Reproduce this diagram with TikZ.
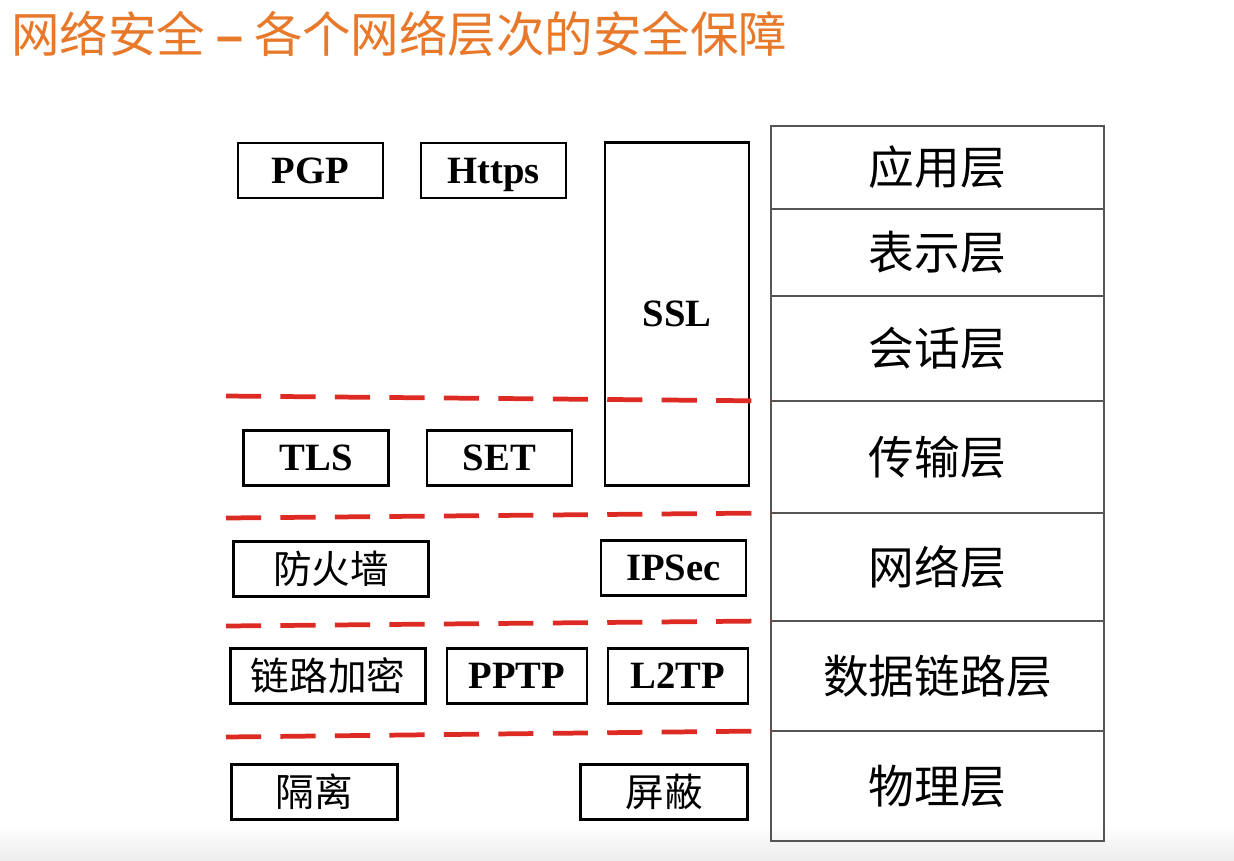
\documentclass[tikz,border=0pt]{standalone}
\usepackage{fontspec}
\setmainfont{Liberation Serif}
\newfontfamily\cjk{Noto Sans CJK SC}
\newfontfamily\dashfont{Liberation Sans}
\usetikzlibrary{positioning}
\definecolor{titleorange}{HTML}{E8792A}
\definecolor{cutred}{HTML}{DD2A22}
\definecolor{stackgray}{HTML}{555555}

\begin{document}
\begin{tikzpicture}[
    x=0.02cm, y=-0.02cm,
    proto/.style={
        draw,
        line width=1.4pt,
        minimum height=1.1cm,
        inner sep=0pt,
        text height=19.4pt,
        text depth=4.8pt,
        font=\bfseries\fontsize{22}{26}\selectfont
    },
    guard/.style={proto, text height=19.4pt, text depth=2.6pt, font=\cjk\fontsize{22}{26}\selectfont},
    layer/.style={
        draw=stackgray,
        line width=0.9pt,
        minimum width=6.66cm,
        outer sep=0pt,
        font=\cjk\fontsize{26}{30}\selectfont
    },
    layercut/.style={draw=cutred, line width=2.7pt, dash pattern=on 20pt off 11pt}
]
\useasboundingbox (0,0) rectangle (1234,860);
\fill[white] (0,0) rectangle (1234,860);
\shade[top color=white, bottom color=gray!14] (0,825) rectangle (1234,860);

\node[anchor=west, inner sep=0pt, text=titleorange, font=\cjk\fontsize{27.6}{32}\selectfont] (title) at (11,34) {网络安全 {\dashfont\bfseries –} 各个网络层次的安全保障};

% OSI stack
\node[layer, minimum height=1.66cm] (app) at (937.5,167.5) {应用层};
\node[layer, minimum height=1.74cm, below=0pt of app] (pres) {表示层};
\node[layer, minimum height=2.10cm, below=0pt of pres] (sess) {会话层};
\node[layer, minimum height=2.24cm, below=0pt of sess] (trans) {传输层};
\node[layer, minimum height=2.16cm, below=0pt of trans] (net) {网络层};
\node[layer, minimum height=2.20cm, below=0pt of net] (link) {数据链路层};
\node[layer, minimum height=2.20cm, below=0pt of link] (phys) {物理层};

% security measures
\node[proto, minimum width=2.9cm] (pgp) at (310.5,170.5) {PGP};
\node[proto, minimum width=2.9cm] (https) at (493.5,170.5) {Https};
\node[proto, minimum width=2.88cm, minimum height=6.86cm] (ssl) at (677,314) {SSL};
\node[proto, minimum width=2.9cm] (tls) at (316,458) {TLS};
\node[proto, minimum width=2.9cm] (set) at (499.5,458) {SET};
\node[guard, minimum width=3.9cm] (fw) at (331,569) {防火墙};
\node[proto, minimum width=2.9cm] (ipsec) at (673.5,568) {IPSec};
\node[guard, minimum width=3.9cm] (enc) at (328,676) {链路加密};
\node[proto, minimum width=2.8cm] (pptp) at (517,676) {PPTP};
\node[proto, minimum width=2.8cm] (l2tp) at (678,676) {L2TP};
\node[guard, minimum width=3.32cm] (iso) at (314.5,792) {隔离};
\node[guard, minimum width=3.34cm] (shield) at (664,792) {屏蔽};

% layer boundaries
\coordinate (c1) at (226,396);
\coordinate (c2) at (226,518);
\coordinate (c3) at (226,626);
\coordinate (c4) at (226,737);
\draw[layercut] (c1) -- (trans.north west);
\draw[layercut] (c2) -- (net.north west);
\draw[layercut] (c3) -- (link.north west);
\draw[layercut] (c4) -- (phys.north west);

\end{tikzpicture}
\end{document}
